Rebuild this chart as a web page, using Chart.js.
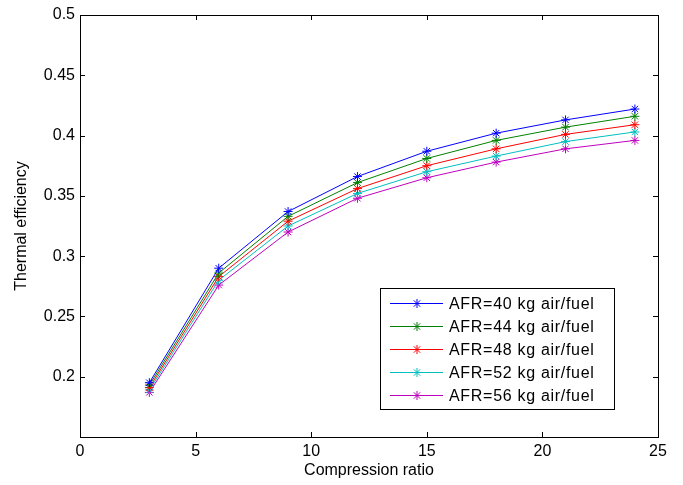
<!DOCTYPE html>
<html>
<head>
<meta charset="utf-8">
<script src="https://cdn.jsdelivr.net/npm/chart.js@4"></script>
<style>
  body { margin: 0; background: #fff; }
  #wrap { width: 683px; height: 485px; }
</style>
</head>
<body>
<div id="wrap"><canvas id="chart" width="683" height="485"></canvas></div>
<script>
// data
const ratios = [3, 6, 9, 12, 15, 18, 21, 24];
const afr40 = [0.195, 0.290, 0.337, 0.366, 0.387, 0.402, 0.413, 0.422];
const afr44 = [0.193, 0.286, 0.333, 0.361, 0.381, 0.396, 0.407, 0.416];
const afr48 = [0.191, 0.283, 0.329, 0.356, 0.375, 0.389, 0.401, 0.409];
const afr52 = [0.189, 0.280, 0.325, 0.352, 0.370, 0.383, 0.395, 0.403];
const afr56 = [0.187, 0.276, 0.320, 0.348, 0.365, 0.378, 0.389, 0.396];
const labels = ["AFR=40 kg air/fuel", "AFR=44 kg air/fuel", "AFR=48 kg air/fuel", "AFR=52 kg air/fuel", "AFR=56 kg air/fuel"];
const colors = ["#0000ff", "#008000", "#ff0000", "#00bfbf", "#bf00bf"];
const xTicks = [0, 5, 10, 15, 20, 25];
const yTicks = [0.15, 0.2, 0.25, 0.3, 0.35, 0.4, 0.45, 0.5];

const series = [afr40, afr44, afr48, afr52, afr56];
const FONT = "'Liberation Sans', Arial, sans-serif";

function star(ctx, x, y, r) {
  ctx.beginPath();
  ctx.moveTo(x - r, y); ctx.lineTo(x + r, y);
  ctx.moveTo(x, y - r); ctx.lineTo(x, y + r);
  const d = r * 0.707;
  ctx.moveTo(x - d, y - d); ctx.lineTo(x + d, y + d);
  ctx.moveTo(x - d, y + d); ctx.lineTo(x + d, y - d);
  ctx.stroke();
}

// axes box with inward ticks + legend box inside plot
const boxPlugin = {
  id: "box",
  afterDraw(chart) {
    const ctx = chart.ctx;
    const a = chart.chartArea;
    const xs = chart.scales.x, ys = chart.scales.y;
    ctx.save();
    ctx.strokeStyle = "#000";
    ctx.lineWidth = 1;
    ctx.strokeRect(Math.round(a.left) + 0.5, Math.round(a.top) + 0.5,
      Math.round(a.right - a.left), Math.round(a.bottom - a.top));
    ctx.beginPath();
    xTicks.forEach(v => {
      const px = Math.round(xs.getPixelForValue(v)) + 0.5;
      ctx.moveTo(px, a.bottom); ctx.lineTo(px, a.bottom - 5);
      ctx.moveTo(px, a.top); ctx.lineTo(px, a.top + 5);
    });
    yTicks.forEach(v => {
      const py = Math.round(ys.getPixelForValue(v)) + 0.5;
      ctx.moveTo(a.left, py); ctx.lineTo(a.left + 5, py);
      ctx.moveTo(a.right, py); ctx.lineTo(a.right - 5, py);
    });
    ctx.stroke();

    // legend
    const lx = 380, ly = 288, lw = 234, lh = 121;
    ctx.fillStyle = "#fff";
    ctx.fillRect(lx, ly, lw, lh);
    ctx.strokeRect(lx + 0.5, ly + 0.5, lw, lh);
    ctx.font = "16px " + FONT;
    ctx.letterSpacing = "0.7px";
    ctx.textBaseline = "middle";
    chart.data.datasets.forEach((ds, i) => {
      const y = 303.5 + i * 23;
      ctx.strokeStyle = ds.borderColor;
      ctx.beginPath();
      ctx.moveTo(390, y); ctx.lineTo(443, y);
      ctx.stroke();
      star(ctx, 417, y, 4.5);
      ctx.fillStyle = "#000";
      ctx.fillText(ds.label, 449, y + 1);
    });
    ctx.letterSpacing = "0px";
    ctx.restore();
  }
};

new Chart(document.getElementById("chart"), {
  type: "line",
  data: {
    datasets: series.map((s, i) => ({
      label: labels[i],
      data: ratios.map((r, j) => ({ x: r, y: s[j] })),
      borderColor: colors[i],
      backgroundColor: colors[i],
      borderWidth: 1,
      pointStyle: "star",
      pointRadius: 4.5,
      pointBorderWidth: 1,
      fill: false,
      tension: 0
    }))
  },
  options: {
    responsive: false,
    animation: false,
    events: [],
    layout: { padding: { top: 15, right: 25, left: 0, bottom: 0 } },
    plugins: { legend: { display: false }, tooltip: { enabled: false } },
    scales: {
      x: {
        type: "linear",
        min: 0, max: 25,
        afterBuildTicks: s => { s.ticks = xTicks.map(v => ({ value: v })); },
        afterFit: s => { s.height = 48; },
        grid: { display: false, drawTicks: false },
        border: { display: false },
        ticks: { color: "#000", font: { family: FONT, size: 16 }, padding: 5, maxRotation: 0 },
        title: { display: true, text: "Compression ratio", color: "#000",
          font: { family: FONT, size: 16 }, padding: { top: 0, bottom: 5 } }
      },
      y: {
        type: "linear",
        min: 0.15, max: 0.5,
        afterBuildTicks: s => { s.ticks = yTicks.map(v => ({ value: v })); },
        afterFit: s => { s.width = 80; },
        grid: { display: false, drawTicks: false },
        border: { display: false },
        ticks: {
          color: "#000", font: { family: FONT, size: 16 }, padding: 5,
          callback: v => Math.abs(v - 0.15) < 1e-6 ? "" : String(+v.toFixed(2))
        },
        title: { display: true, text: "Thermal efficiency", color: "#000",
          font: { family: FONT, size: 16 }, padding: { top: 12, bottom: 0 } }
      }
    }
  },
  plugins: [boxPlugin]
});
</script>
</body>
</html>
